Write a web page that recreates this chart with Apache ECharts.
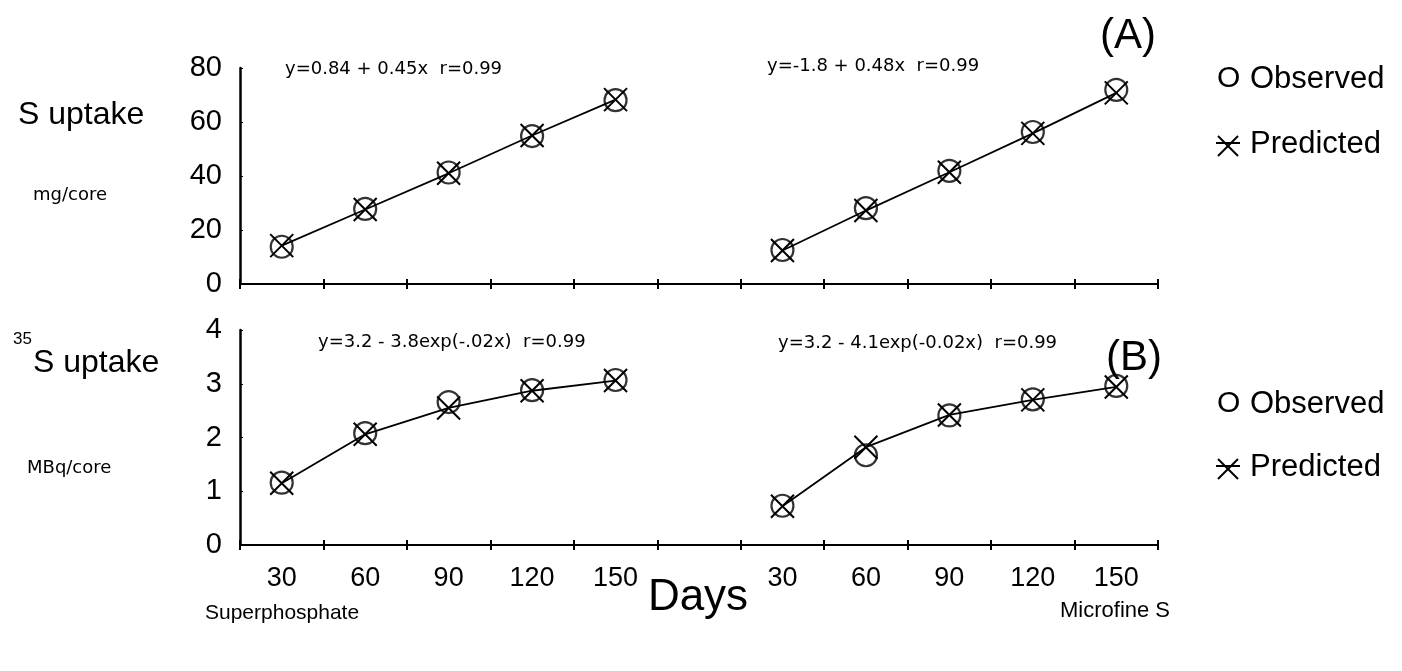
<!DOCTYPE html>
<html><head><meta charset="utf-8">
<script src="https://cdn.jsdelivr.net/npm/echarts@6/dist/echarts.min.js"></script>
<style>html,body{margin:0;padding:0;background:#fff}#c{width:1402px;height:671px}</style>
</head><body><div id="c"></div>
<script>
// ---- data ----
const days = ['30','60','90','120','150','','30','60','90','120','150'];
const yTicksA = [0,20,40,60,80];
const yTicksB = [0,1,2,3,4];
// Panel A: S uptake (mg/core)
const superObsA = [13.8, 27.8, 41.3, 54.8, 68.1];
const superPredA = [14.2, 27.6, 41.0, 55.0, 68.3];
const microObsA = [12.6, 28.1, 41.9, 56.3, 71.9];
const microPredA = [12.4, 27.2, 41.4, 55.8, 70.8];
// Panel B: 35S uptake (MBq/core)
const superObsB = [1.16, 2.08, 2.66, 2.88, 3.07];
const superPredB = [1.15, 2.06, 2.55, 2.87, 3.06];
const microObsB = [0.73, 1.67, 2.41, 2.71, 2.96];
const microPredB = [0.72, 1.82, 2.42, 2.70, 2.94];

function row(left, right){ return left.concat(['-'], right); }

const F = 'Liberation Sans, Arial, sans-serif';
const F2 = 'DejaVu Sans, sans-serif';
const X_SYMBOL = 'path://M0,0L20,20M20,0L0,20';

function xAxesFor(grid, labels){
  const base = {type:'category', data:days, gridIndex:grid, boundaryGap:true, position:'bottom'};
  return [
    Object.assign({}, base, {
      axisLine:{lineStyle:{color:'#000', width:2}},
      axisTick:{show:true, length:5, inside:false, lineStyle:{color:'#000', width:2}},
      axisLabel:{show:labels, color:'#000', fontSize:27, fontFamily:F, margin:20},
      splitLine:{show:false}
    }),
    Object.assign({}, base, {
      axisLine:{show:false},
      axisTick:{show:true, length:5, inside:true, lineStyle:{color:'#000', width:2}},
      axisLabel:{show:false},
      splitLine:{show:false}
    })
  ];
}
function yAxisFor(grid, max, interval){
  return {type:'value', gridIndex:grid, min:0, max:max, interval:interval,
    axisLine:{show:true, lineStyle:{color:'#000', width:2.5}},
    axisTick:{show:true, inside:true, length:3, lineStyle:{color:'#000'}},
    axisLabel:{color:'#000', fontSize:29, fontFamily:F, margin:18},
    splitLine:{show:false}};
}
function obs(data, xi, yi){
  return {type:'scatter', xAxisIndex:xi, yAxisIndex:yi, data:data, symbol:'circle', symbolSize:22,
    itemStyle:{color:'rgba(0,0,0,0)', borderColor:'#000', borderWidth:2.2}, z:3, silent:true};
}
function pred(data, xi, yi){
  return {type:'line', xAxisIndex:xi, yAxisIndex:yi, data:data, symbol:X_SYMBOL, symbolSize:23, showSymbol:true,
    itemStyle:{color:'rgba(0,0,0,0)', borderColor:'#000', borderWidth:2},
    lineStyle:{color:'#000', width:1.8}, connectNulls:false, z:4, silent:true};
}
function txt(x, y, text, size, align, fam){
  return {type:'text', x:x, y:y, style:{text:text, fill:'#000', font:size+'px '+(fam||F), textAlign:align||'left', textVerticalAlign:'middle'}};
}
function star(cx, cy){
  const s = 10;
  return {type:'group', children:[
    {type:'line', shape:{x1:cx-12, y1:cy-3, x2:cx+12, y2:cy-3}, style:{stroke:'#000', lineWidth:2}},
    {type:'line', shape:{x1:cx-s, y1:cy-s, x2:cx+s, y2:cy+s}, style:{stroke:'#000', lineWidth:2}},
    {type:'line', shape:{x1:cx+s, y1:cy-s, x2:cx-s, y2:cy+s}, style:{stroke:'#000', lineWidth:2}}
  ]};
}

const chart = echarts.init(document.getElementById('c'), null, {renderer:'canvas'});
chart.setOption({
  animation:false,
  backgroundColor:'#fff',
  grid:[
    {left:240, right:244, top:68, bottom:387},
    {left:240, right:244, top:330, bottom:126}
  ],
  xAxis: xAxesFor(0,false).concat(xAxesFor(1,true)),
  yAxis: [yAxisFor(0,80,20), yAxisFor(1,4,1)],
  series:[
    pred(row(superPredA, microPredA), 0, 0),
    obs(row(superObsA, microObsA), 0, 0),
    pred(row(superPredB, microPredB), 2, 1),
    obs(row(superObsB, microObsB), 2, 1)
  ],
  graphic:[
    txt(18, 115, 'S uptake', 32),
    txt(33, 195, 'mg/core', 18, 'left', F2),
    txt(13, 339, '35', 17),
    txt(33, 363, 'S uptake', 32),
    txt(27, 468, 'MBq/core', 18, 'left', F2),
    txt(285, 69, 'y=0.84 + 0.45x  r=0.99', 18, 'left', F2),
    txt(767, 66, 'y=-1.8 + 0.48x  r=0.99', 18, 'left', F2),
    txt(318, 342, 'y=3.2 - 3.8exp(-.02x)  r=0.99', 18, 'left', F2),
    txt(778, 343, 'y=3.2 - 4.1exp(-0.02x)  r=0.99', 18, 'left', F2),
    txt(1128, 36, '(A)', 42, 'center'),
    txt(1134, 358, '(B)', 42, 'center'),
    txt(1217, 79, 'O', 30),
    txt(1250, 79, 'Observed', 31),
    star(1228, 146),
    txt(1250, 144, 'Predicted', 31),
    txt(1217, 404, 'O', 30),
    txt(1250, 404, 'Observed', 31),
    star(1228, 469),
    txt(1250, 467, 'Predicted', 31),
    txt(698, 598, 'Days', 44, 'center'),
    txt(205, 613, 'Superphosphate', 21),
    txt(1060, 611, 'Microfine S', 22)
  ]
});
</script></body></html>
